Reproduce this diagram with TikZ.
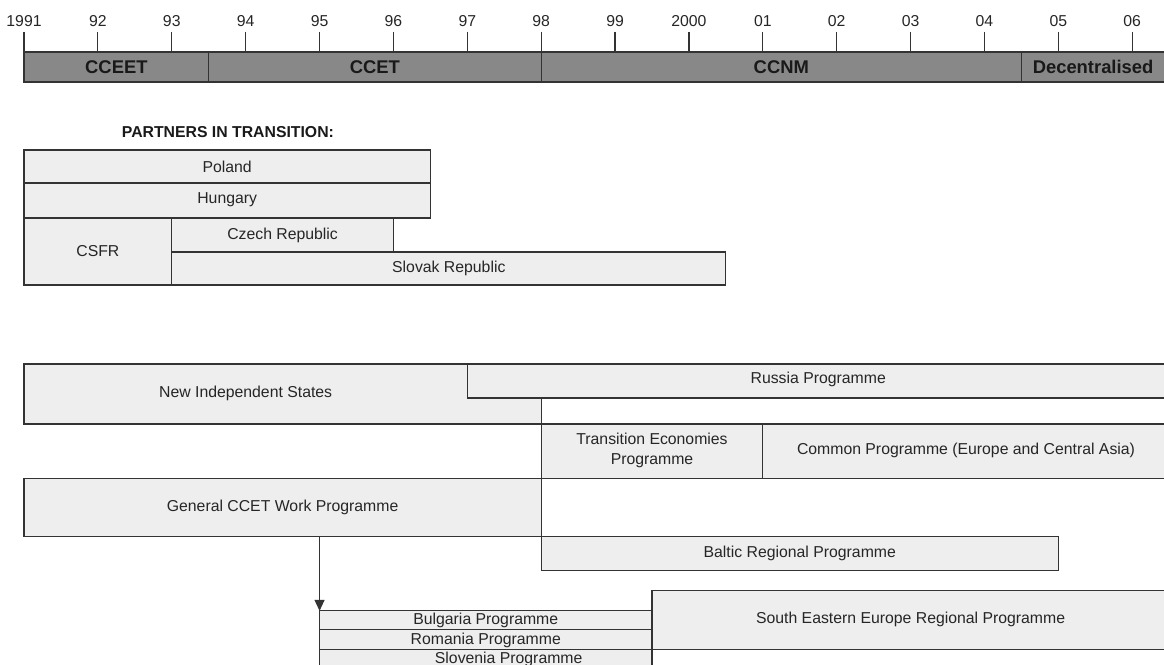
\documentclass[tikz,border=0pt]{standalone}
\usepackage{fontspec}
\setmainfont{Liberation Sans}
\usetikzlibrary{arrows.meta}
\definecolor{bargray}{HTML}{888888}
\definecolor{boxgray}{HTML}{EEEEEE}
\definecolor{edge}{HTML}{333333}

\begin{document}
\begin{tikzpicture}[x=36.95pt,y=-0.5pt,
    box/.style={draw=edge,fill=boxgray,line width=0.6pt},
    rule/.style={draw=edge,line width=0.6pt},
    txt/.style={font=\fontsize{7.9}{10}\selectfont,text=black!85,inner sep=0pt,align=center},
    bartxt/.style={font=\fontsize{9.2}{11}\selectfont\bfseries,text=black!90,inner sep=0pt}]
    \useasboundingbox (-0.325,0) rectangle (15.43,665);

    % time bar with the years
    \fill[bargray] (0,52) rectangle (15.43,82);
    \draw[rule] (15.43,52) -- (0,52) -- (0,82) -- (15.43,82);
    \foreach \d in {2.5,7,13.5}
        \draw[rule] (\d,52) -- (\d,82);
    \foreach \lab [count=\i from 0] in {1991,92,93,94,95,96,97,98,99,2000,01,02,03,04,05,06}
    {
        \draw[rule] (\i,32) -- (\i,52);
        \node[txt] (yr\i) at (\i,21) {\lab};
    }
    \node[bartxt] (cceet) at (1.25,67) {CCEET};
    \node[bartxt] (ccet) at (4.75,67) {CCET};
    \node[bartxt] (ccnm) at (10.25,67) {CCNM};
    \node[bartxt] (decent) at (14.47,67) {Decentralised};

    % partners in transition
    \node[font=\fontsize{7.9}{9}\selectfont\bfseries,text=black!90] (partners) at (2.76,132) {PARTNERS IN TRANSITION:};
    \draw[box] (0,150) rectangle (5.5,183);
    \draw[box] (0,183) rectangle (5.5,218);
    \draw[box] (0,218) rectangle (2,285);
    \draw[box] (2,218) rectangle (5,252);
    \draw[box] (2,252) rectangle (9.5,285);
    \node[txt] (poland) at (2.75,167) {Poland};
    \node[txt] (hungary) at (2.75,200) {Hungary};
    \node[txt] (csfr) at (1,251) {CSFR};
    \node[txt] (czech) at (3.5,235) {Czech Republic};
    \node[txt] (slovak) at (5.75,268) {Slovak Republic};

    % NIS and Russia
    \draw[box] (0,364) -- (6,364) -- (6,398) -- (7,398) -- (7,424) -- (0,424) -- cycle;
    \fill[boxgray] (6,364) rectangle (15.43,398);
    \draw[rule] (15.43,364) -- (6,364) -- (6,398) -- (15.43,398);
    \node[txt] (nis) at (3,394) {New Independent States};
    \node[txt] (russia) at (10.75,380) {Russia Programme};

    % transition economies and common programme
    \fill[boxgray] (7,424) rectangle (15.43,479);
    \draw[rule] (0,424) -- (15.43,424);
    \draw[rule] (0,479) -- (15.43,479);
    \draw[rule] (10,424) -- (10,479);
    \draw[rule] (7,398) -- (7,571);
    \node[txt] (teprog) at (8.5,451) {Transition Economies\\Programme};
    \node[txt] (common) at (12.75,451) {Common Programme (Europe and Central Asia)};

    % general work programme and baltic
    \draw[box] (0,479) rectangle (7,537);
    \draw[box] (7,537) rectangle (14,571);
    \node[txt] (gcwp) at (3.5,508) {General CCET Work Programme};
    \node[txt] (baltic) at (10.5,554) {Baltic Regional Programme};

    % country programmes
    \fill[boxgray] (4,611) rectangle (8.5,665);
    \draw[rule] (4,665) -- (4,611) -- (8.5,611);
    \draw[rule] (4,630) -- (8.5,630);
    \draw[rule] (4,650) -- (8.5,650);
    \fill[boxgray] (8.5,591) rectangle (15.43,650);
    \draw[rule] (15.43,591) -- (8.5,591) -- (8.5,665);
    \draw[rule] (8.5,650) -- (15.43,650);
    \node[txt] (bulgaria) at (6.25,621) {Bulgaria Programme};
    \node[txt] (romania) at (6.25,641) {Romania Programme};
    \node[txt] (slovenia) at (6.56,660) {Slovenia Programme};
    \node[txt] (see) at (12,620) {South Eastern Europe Regional Programme};

    \coordinate (gcwpout) at (4,537);
    \coordinate (bulgin) at (4,611);
    \draw[rule,-{Triangle[width=5pt,length=5.5pt]}] (gcwpout) -- (bulgin);
\end{tikzpicture}
\end{document}
